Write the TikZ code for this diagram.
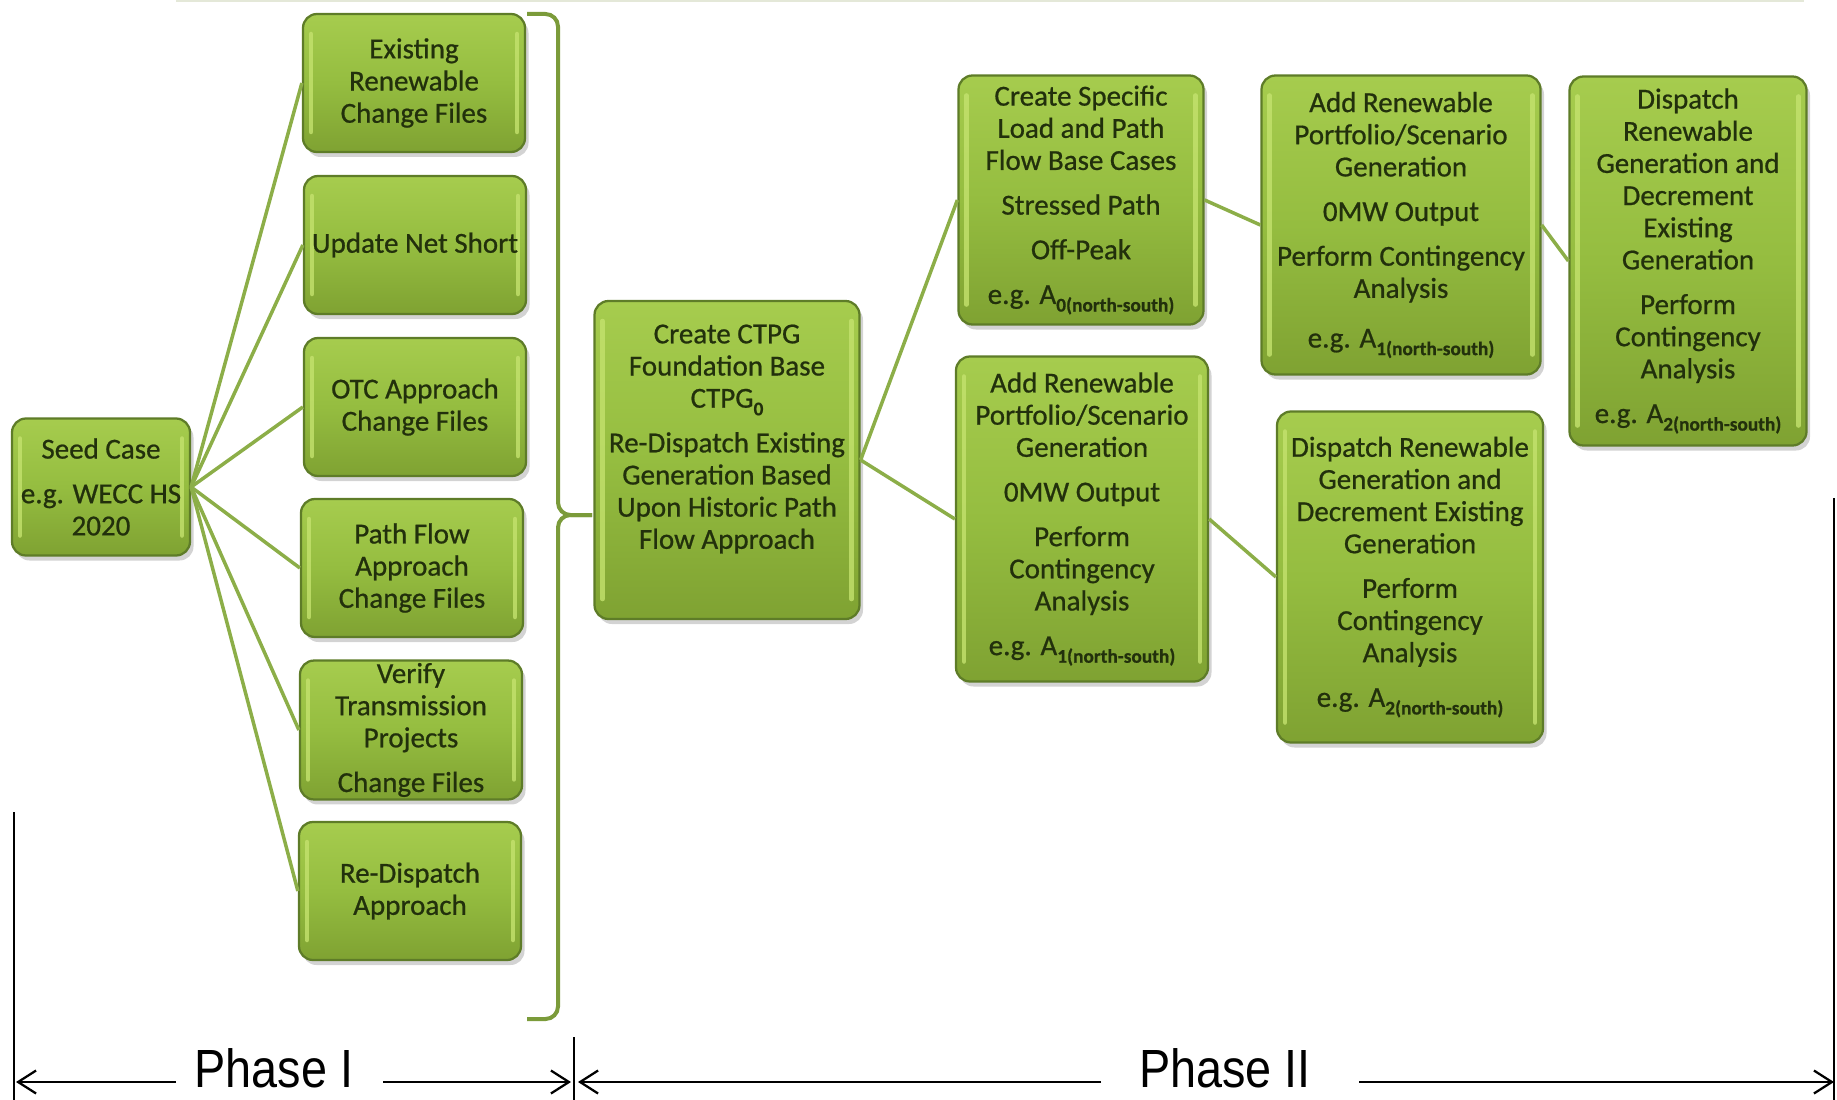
\documentclass[tikz,border=0pt]{standalone}
\usepackage{fontspec}
\setmainfont{Carlito}
\newfontfamily\boxfont[FakeBold=0.7]{Carlito}
\newfontfamily\phasefont[FakeStretch=0.87]{Liberation Sans}
\usepackage{tikz}
\usetikzlibrary{arrows.meta,shadows}

\definecolor{boxtop}{HTML}{A6CC4E}
\definecolor{boxmid}{HTML}{95BD40}
\definecolor{boxbot}{HTML}{7FA232}
\definecolor{boxedge}{HTML}{5E7C28}
\definecolor{boxshine}{HTML}{C4E26E}
\definecolor{boxtext}{HTML}{22300C}
\definecolor{linkgreen}{HTML}{8CAE48}
\definecolor{bracegreen}{HTML}{7B9B3A}
\definecolor{topline}{HTML}{E4E8D8}

\newcommand{\subidx}[1]{\raisebox{-0.55ex}{\fontsize{11}{11}\selectfont\bfseries #1}}

\tikzset{
  box/.style={draw=boxedge, line width=0.45mm, rounded corners=2.8mm,
    top color=boxtop, bottom color=boxbot, middle color=boxmid,
    drop shadow={shadow xshift=0.7mm, shadow yshift=-1mm, opacity=0.35},
    path picture={
      \draw[boxshine, line width=0.9mm, opacity=0.8, line cap=round]
        ([xshift=1.6mm,yshift=-4mm]path picture bounding box.north west)
        -- ([xshift=1.6mm,yshift=4mm]path picture bounding box.south west);
      \draw[boxshine, line width=0.9mm, opacity=0.8, line cap=round]
        ([xshift=-1.6mm,yshift=-4mm]path picture bounding box.north east)
        -- ([xshift=-1.6mm,yshift=4mm]path picture bounding box.south east);
    },
    text=boxtext, align=center, inner sep=0.5mm,
    font=\boxfont\fontsize{16.5}{18.3}\selectfont},
  filebox/.style={box, minimum width=44.4mm, minimum height=27.6mm},
  boxlabel/.style={text=boxtext, align=center, inner sep=0pt,
    font=\boxfont\fontsize{16.5}{18.3}\selectfont},
  link/.style={linkgreen, line width=0.7mm},
  phase/.style={font=\phasefont\fontsize{30.6}{32}\selectfont, inner sep=0pt,
    anchor=base},
  phasearrow/.style={line width=0.45mm, -{Straight Barb[length=3.6mm,width=4.6mm]}},
}

\begin{document}
\begin{tikzpicture}[x=0.2mm, y=-0.2mm]
	\useasboundingbox (0,0) rectangle (1837,1100);

	\draw[topline, line width=0.3mm] (176,1) -- (1804,1); %top edge

	% phase I
	\node[box, minimum width=35.6mm, minimum height=27.4mm] (seed) at (101,487)
		{Seed Case\\[2.5mm]e.g. WECC HS\\2020};
	\node[filebox] (existing) at (414,83) {Existing\\Renewable\\Change Files};
	\node[filebox] (netshort) at (415,245) {Update Net Short};
	\node[filebox] (otc) at (415,407) {OTC Approach\\Change Files};
	\node[filebox] (pathflow) at (412,568) {Path Flow\\Approach\\Change Files};
	\node[filebox] (verify) at (411,730) {Verify\\Transmission\\Projects\\[2.5mm]Change Files};
	\node[filebox] (redispatch) at (410,891) {Re-Dispatch\\Approach};

	\draw[link] (seed.east) -- (existing.west);
	\draw[link] (seed.east) -- (netshort.west);
	\draw[link] (seed.east) -- (otc.west);
	\draw[link] (seed.east) -- (pathflow.west);
	\draw[link] (seed.east) -- (verify.west);
	\draw[link] (seed.east) -- (redispatch.west);

	% bracket
	\draw[bracegreen, line width=0.8mm, rounded corners=2.5mm]
		(527,14) -- (558,14) -- (558,515) -- (592,515);
	\draw[bracegreen, line width=0.8mm, rounded corners=2.5mm]
		(592,515) -- (558,515) -- (558,1019) -- (527,1019);

	% phase II
	\node[box, minimum width=53mm, minimum height=63.6mm] (ctpg) at (727,460) {};
	\node[boxlabel] at ([yshift=4.2mm]ctpg.center)
		{Create CTPG\\Foundation Base\\CTPG\subidx{0}\\[2.5mm]Re-Dispatch Existing\\Generation Based\\Upon Historic Path\\Flow Approach};
	\node[box, minimum width=49mm, minimum height=49.8mm] (loadpath) at (1081,200)
		{Create Specific\\Load and Path\\Flow Base Cases\\[2.5mm]Stressed Path\\[2.5mm]Off-Peak\\[2.5mm]e.g. A\subidx{0(north-south)}};
	\node[box, minimum width=50.4mm, minimum height=65mm] (addmid) at (1082,519)
		{Add Renewable\\Portfolio/Scenario\\Generation\\[2.5mm]0MW Output\\[2.5mm]Perform\\Contingency\\Analysis\\[2.5mm]e.g. A\subidx{1(north-south)}};
	\node[box, minimum width=55.8mm, minimum height=59.8mm] (addtop) at (1401,225)
		{Add Renewable\\Portfolio/Scenario\\Generation\\[2.5mm]0MW Output\\[2.5mm]Perform Contingency\\Analysis\\[3.5mm]e.g. A\subidx{1(north-south)}};
	\node[box, minimum width=53.2mm, minimum height=66.2mm] (displow) at (1410,577)
		{Dispatch Renewable\\Generation and\\Decrement Existing\\Generation\\[2.5mm]Perform\\Contingency\\Analysis\\[2.5mm]e.g. A\subidx{2(north-south)}};
	\node[box, minimum width=47.4mm, minimum height=73.8mm] (disptop) at (1688,261)
		{Dispatch\\Renewable\\Generation and\\Decrement\\Existing\\Generation\\[2.5mm]Perform\\Contingency\\Analysis\\[2.5mm]e.g. A\subidx{2(north-south)}};

	\draw[link] (ctpg.east) -- (loadpath.west);
	\draw[link] (ctpg.east) -- (addmid.west);
	\draw[link] (loadpath.east) -- (addtop.west);
	\draw[link] (addmid.east) -- (displow.west);
	\draw[link] (addtop.east) -- (disptop.west);

	% phase markers
	\draw[line width=0.5mm] (14,812) -- (14,1100);
	\draw[line width=0.5mm] (574,1037) -- (574,1100);
	\draw[line width=0.5mm] (1834,498) -- (1834,1100);

	\node[phase] (ph1) at (274,1087) {Phase I};
	\node[phase] (ph2) at (1225,1087) {Phase II};

	\coordinate (ph1l) at (16,1082);
	\coordinate (ph1r) at (571,1082);
	\coordinate (ph2l) at (578,1082);
	\coordinate (ph2r) at (1834,1082);
	\draw[phasearrow] (176,1082) -- (ph1l);
	\draw[phasearrow] (383,1082) -- (ph1r);
	\draw[phasearrow] (1101,1082) -- (ph2l);
	\draw[phasearrow] (1359,1082) -- (ph2r);

\end{tikzpicture}
\end{document}
